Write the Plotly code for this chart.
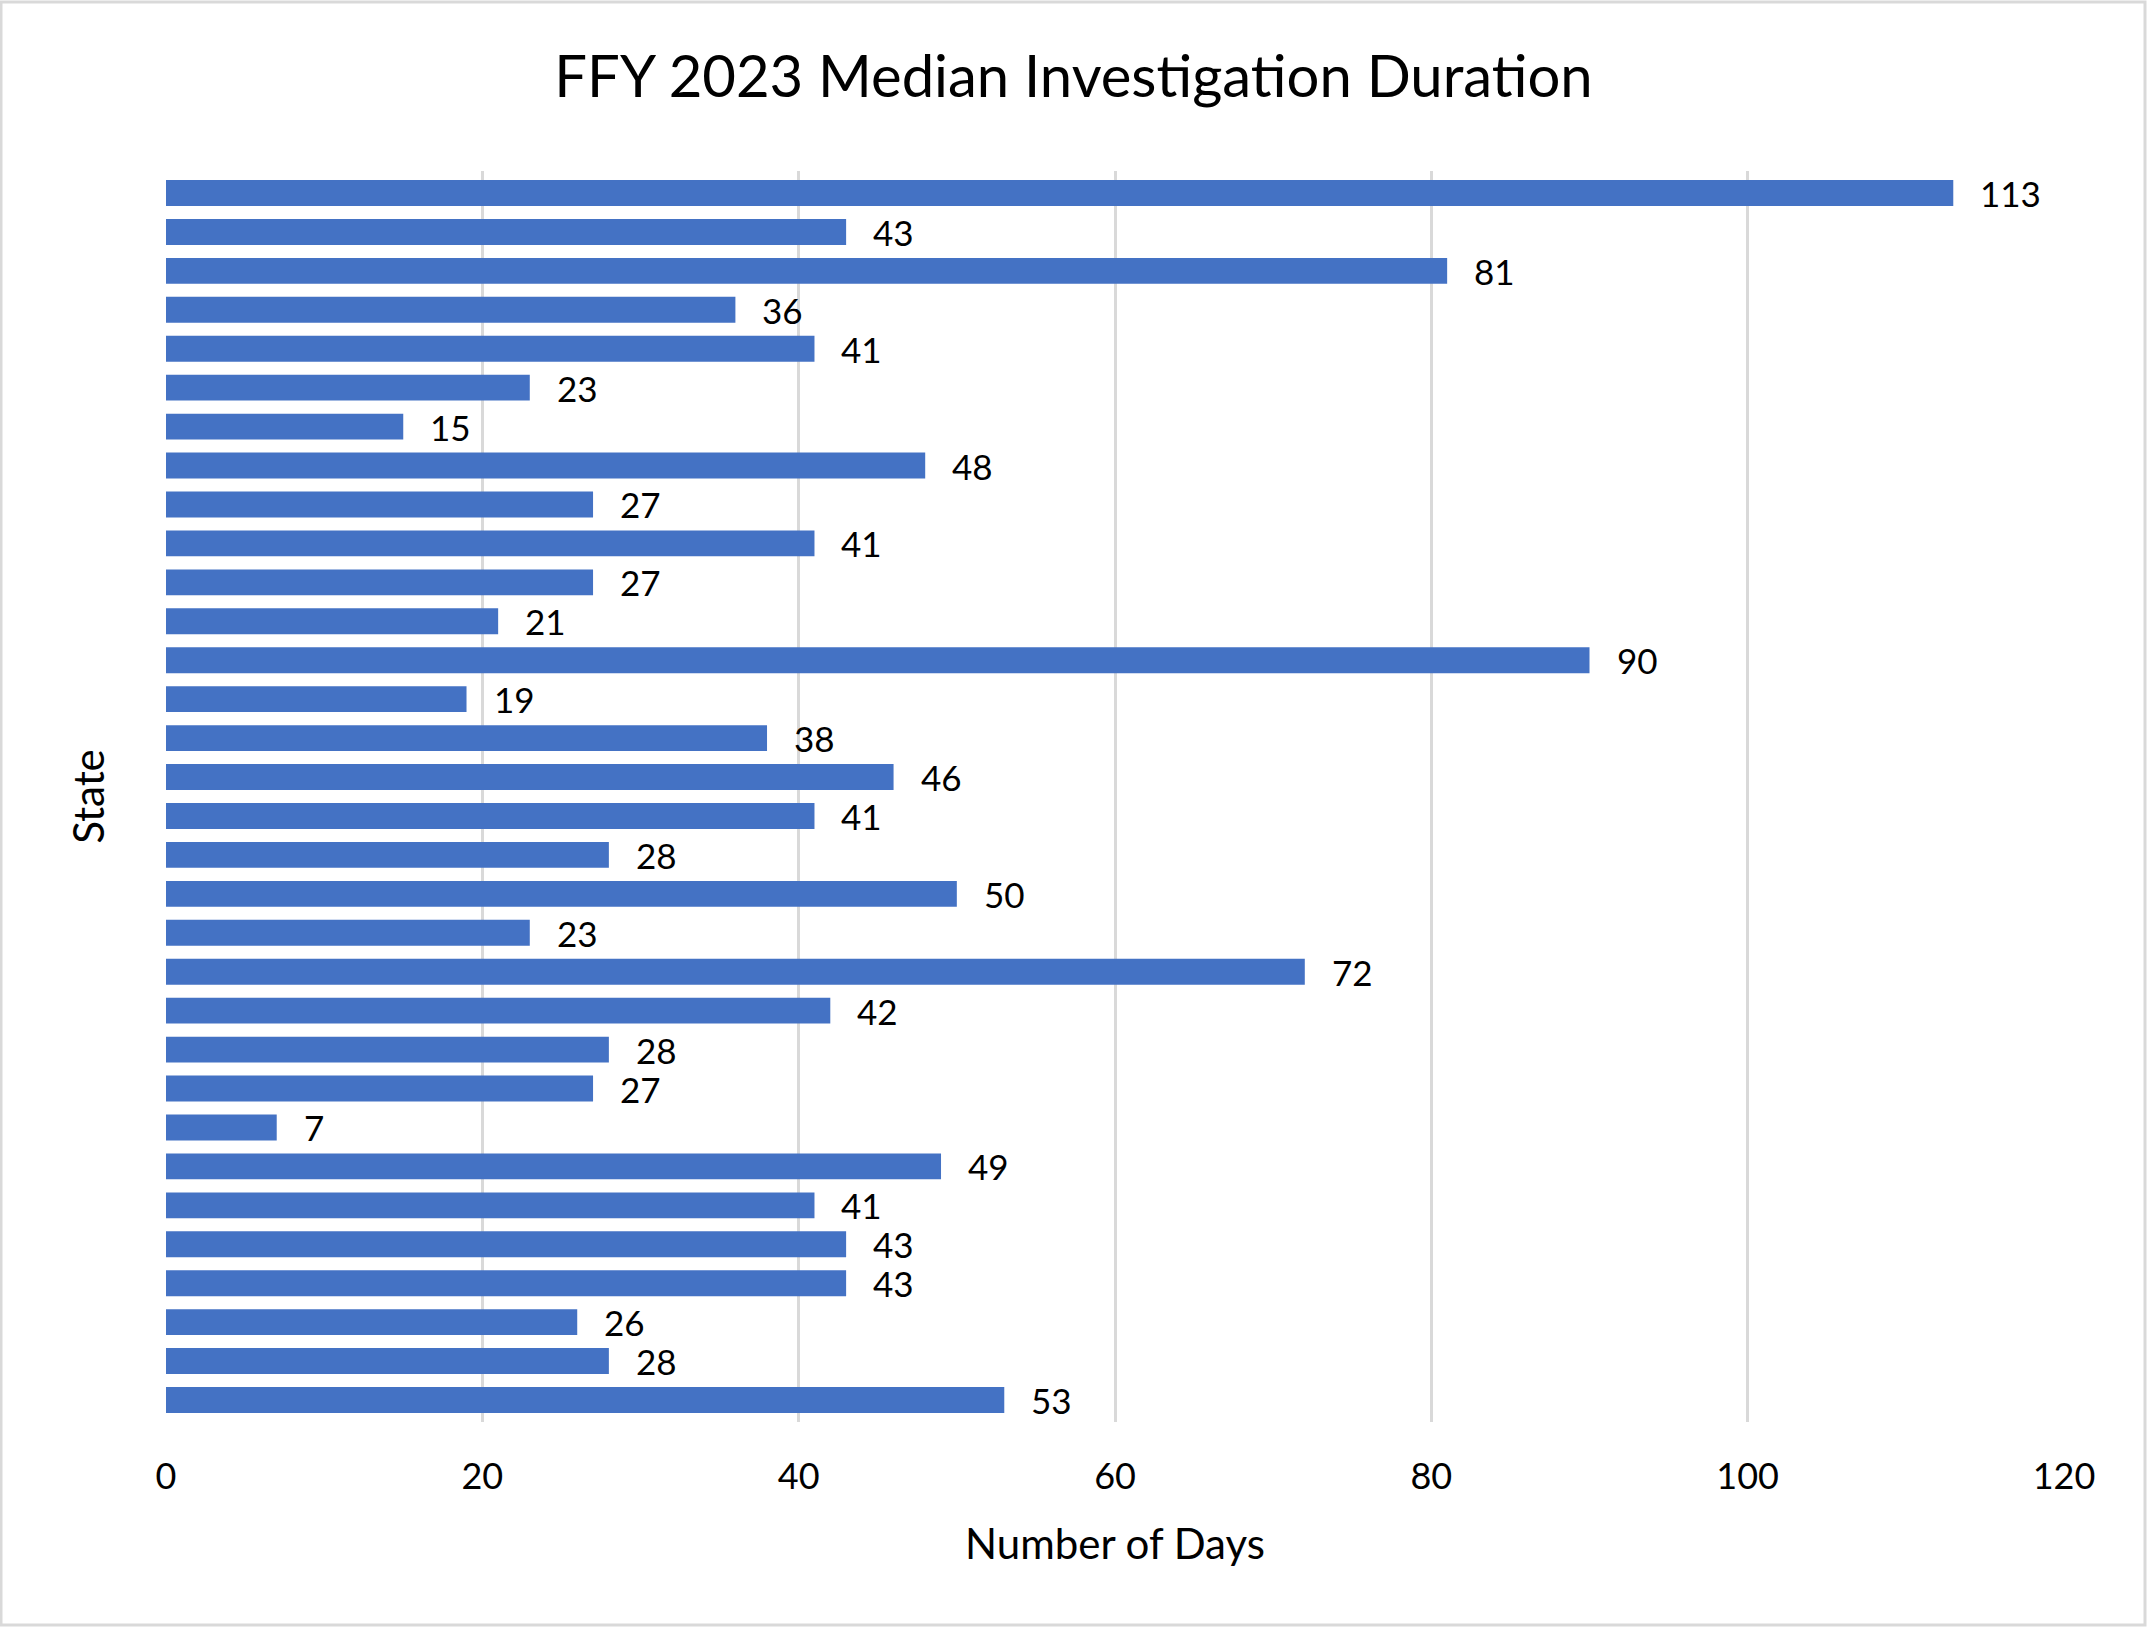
import plotly.graph_objects as go

states = [f"State {i}" for i in range(1, 33)]
days = [113, 43, 81, 36, 41, 23, 15, 48, 27, 41, 27, 21, 90, 19, 38, 46,
        41, 28, 50, 23, 72, 42, 28, 27, 7, 49, 41, 43, 43, 26, 28, 53]
x_ticks = [0, 20, 40, 60, 80, 100, 120]

FONT = "Lato"
W, H = 2147, 1627
L, R, T, B = 166, 83, 171, 205

fig = go.Figure()
fig.add_trace(go.Bar(
    x=days, y=states, orientation="h",
    marker=dict(color="#4472c4", line=dict(width=0)),
    hoverinfo="x+y",
))
for s, v in zip(states, days):
    fig.add_annotation(x=v, y=s, text=str(v), showarrow=False,
                       xanchor="left", xshift=26, yshift=0, borderpad=0,
                       font=dict(family=FONT, size=35, color="#000000"))

fig.update_layout(
    width=W, height=H,
    margin=dict(l=L, r=R, t=T, b=B, pad=0),
    paper_bgcolor="white", plot_bgcolor="white",
    bargap=0.335,
    showlegend=False,
    title=dict(text="FFY 2023 Median Investigation Duration",
               x=0.5, xanchor="center", y=1 - 77 / H, yanchor="middle",
               font=dict(family=FONT, size=58, color="#000000")),
    xaxis=dict(range=[0, 120], tickvals=x_ticks, showgrid=True,
               gridcolor="#d9d9d9", gridwidth=2.5, zeroline=False,
               showline=False, ticks="", ticklen=0, ticklabelstandoff=30,
               tickfont=dict(family=FONT, size=36, color="#000000"),
               title=dict(text="Number of Days", standoff=33,
                          font=dict(family=FONT, size=42, color="#000000"))),
    yaxis=dict(autorange="reversed", showticklabels=False, showgrid=False,
               zeroline=False, showline=False, ticks="",
               title=dict(text="State", standoff=47,
                          font=dict(family=FONT, size=42, color="#000000"))),
    shapes=[dict(type="rect", xref="paper", yref="paper",
                 x0=-L / (W - L - R) + 1 / (W - L - R), x1=1 + (R - 2) / (W - L - R),
                 y0=-(B - 2) / (H - T - B), y1=1 + (T - 2) / (H - T - B),
                 line=dict(color="#d9d9d9", width=3), layer="below")],
)

fig.write_html("out.html")
